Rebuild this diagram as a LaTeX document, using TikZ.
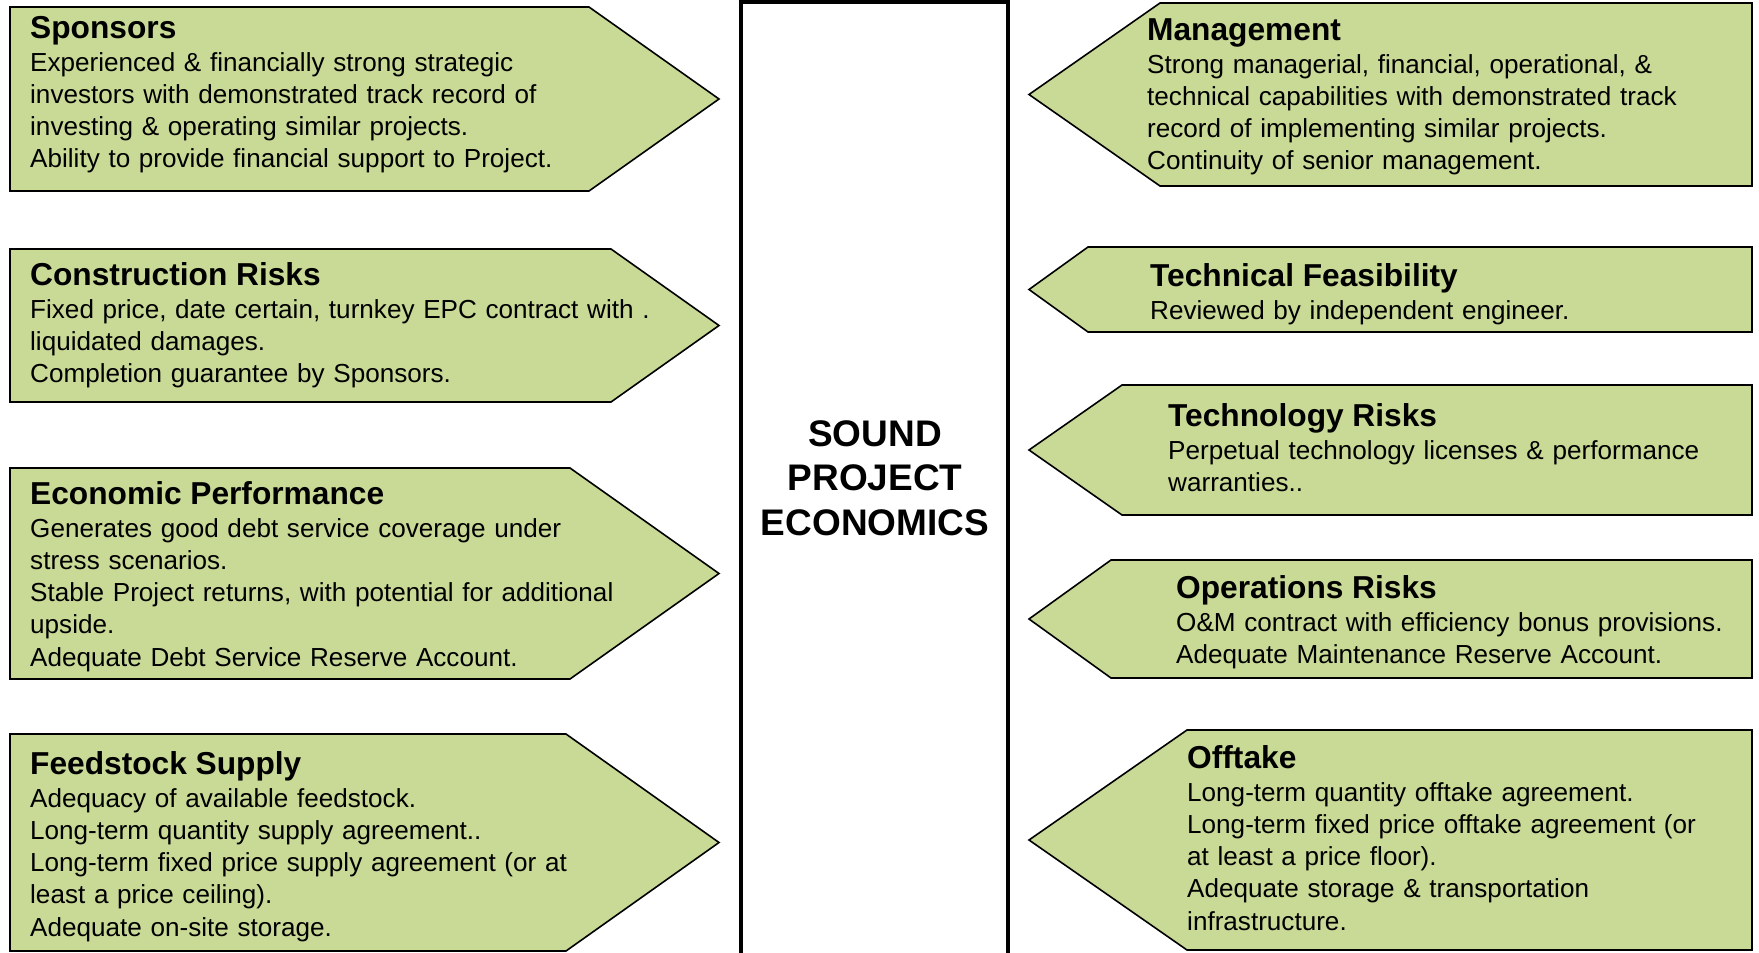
\documentclass[tikz,border=0pt]{standalone}
\usepackage{fontspec}
\setmainfont{Liberation Sans}
\definecolor{leaf}{RGB}{201,217,150}
\begin{document}
\begin{tikzpicture}[x=1pt,y=-1pt,
  arrowbox/.style={draw=black,fill=leaf,line width=1.6pt,line join=miter},
  blurb/.style={anchor=base west,inner sep=0pt,text width=640pt,align=left,
    font=\fontsize{26.1}{32.2}\selectfont},
  head/.style={font=\bfseries\fontsize{31.7}{32}\selectfont}]

\useasboundingbox (0,0) rectangle (1759,953);

\foreach \t/\b/\p in {7/191/589,249/402/611,468/679/570,734/951/566}{
\draw[arrowbox] (10,\t) -- (\p,\t) -- (719,{(\t+\b)/2}) -- (\p,\b) -- (10,\b) -- cycle;}

\foreach \t/\b/\p in {3/186/1160,247/332/1088,385/515/1122,560/678/1111,730/950/1187}{
\draw[arrowbox] (1752,\t) -- (\p,\t) -- (1029,{(\t+\b)/2}) -- (\p,\b) -- (1752,\b) -- cycle;}

\draw[line width=4pt] (741,2) rectangle (1008,960);

\node[align=center,inner sep=0pt,font=\bfseries\fontsize{37}{44.3}\selectfont] (core) at (875,478)
  {SOUND\\PROJECT\\ECONOMICS};

\node[blurb] (sponsors) at (30,38) {{\bfseries\fontsize{31.7}{32}\selectfont Sponsors}\\[1pt]
  Experienced \& financially strong strategic\\
  investors with demonstrated track record of\\
  investing \& operating similar projects.\\
  Ability to provide financial support to Project.};
\node[blurb] (construction) at (30,285) {{\bfseries\fontsize{31.7}{32}\selectfont Construction Risks}\\[1pt]
  Fixed price, date certain, turnkey EPC contract with .\\
  liquidated damages.\\
  Completion guarantee by Sponsors.};
\node[blurb] (economic) at (30,504) {{\bfseries\fontsize{31.7}{32}\selectfont Economic Performance}\\[1pt]
  Generates good debt service coverage under\\
  stress scenarios.\\
  Stable Project returns, with potential for additional\\
  upside.\\
  Adequate Debt Service Reserve Account.};
\node[blurb] (feedstock) at (30,774) {{\bfseries\fontsize{31.7}{32}\selectfont Feedstock Supply}\\[1pt]
  Adequacy of available feedstock.\\
  Long-term quantity supply agreement..\\
  Long-term fixed price supply agreement (or at\\
  least a price ceiling).\\
  Adequate on-site storage.};

\node[blurb] (management) at (1147,40) {{\bfseries\fontsize{31.7}{32}\selectfont Management}\\[1pt]
  Strong managerial, financial, operational, \&\\
  technical capabilities with demonstrated track\\
  record of implementing similar projects.\\
  Continuity of senior management.};
\node[blurb] (technical) at (1150,286) {{\bfseries\fontsize{31.7}{32}\selectfont Technical Feasibility}\\[1pt]
  Reviewed by independent engineer.};
\node[blurb] (technology) at (1168,426) {{\bfseries\fontsize{31.7}{32}\selectfont Technology Risks}\\[1pt]
  Perpetual technology licenses \& performance\\
  warranties..};
\node[blurb] (operations) at (1176,598) {{\bfseries\fontsize{31.7}{32}\selectfont Operations Risks}\\[1pt]
  O\&M contract with efficiency bonus provisions.\\
  Adequate Maintenance Reserve Account.};
\node[blurb] (offtake) at (1187,768) {{\bfseries\fontsize{31.7}{32}\selectfont Offtake}\\[1pt]
  Long-term quantity offtake agreement.\\
  Long-term fixed price offtake agreement (or\\
  at least a price floor).\\
  Adequate storage \& transportation\\
  infrastructure.};

\end{tikzpicture}
\end{document}
